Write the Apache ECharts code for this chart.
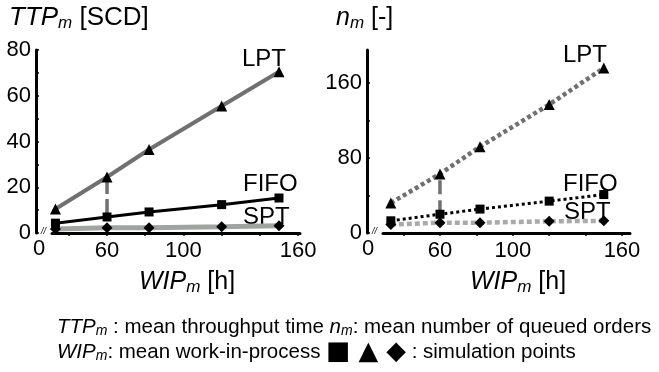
<!DOCTYPE html>
<html>
<head>
<meta charset="utf-8">
<script src="https://cdn.jsdelivr.net/npm/echarts@6/dist/echarts.min.js"></script>
<style>
html,body{margin:0;padding:0;background:#fff;}
#chart{width:659px;height:372px;}
</style>
</head>
<body>
<div id="chart"></div>
<script>
// simulation points
var wip = [33, 60, 82, 120, 150];
var ttpLPT = [10.5, 24.5, 36.5, 55.5, 70.5];
var ttpFIFO = [4.3, 7, 9.2, 12.4, 15.3];
var ttpSPT = [1.8, 2.3, 2.3, 2.7, 3.2];
var nLPT = [32, 63, 92, 137, 176];
var nFIFO = [13, 20, 25.5, 34, 41];
var nSPT = [9, 11, 11, 12.5, 13];
// dashed gap marker at WIP = 60
var gapWip = 60;
var gapTTP = [7, 24.5];
var gapN = [20, 63];
// ticks / labels
var xTicks = [40, 60, 80, 100, 120, 140, 160];
var xLabels = [60, 100, 160];
var ttpTicks = [0, 10, 20, 30, 40, 50, 60, 70, 80];
var ttpLabels = [0, 20, 40, 60, 80];
var nTicks = [0, 40, 80, 120, 160];
var nLabels = [0, 80, 160];

var FONT = '"Liberation Sans", Arial, sans-serif';

function pts(xs, ys) {
	return xs.map(function (x, i) { return [x, ys[i]]; });
}

function xAx(idx, min, max) {
	return {
		type: 'value', gridIndex: idx, min: min, max: max,
		axisLine: { lineStyle: { color: '#000', width: 3 } },
		axisTick: { customValues: xTicks, length: 3, lineStyle: { color: '#000', width: 1.5 } },
		axisLabel: { customValues: xLabels, color: '#000', fontSize: 22, fontFamily: FONT, margin: 7 },
		splitLine: { show: false }
	};
}
function yAx(idx, max, ticks, labels) {
	return {
		type: 'value', gridIndex: idx, min: 0, max: max, offset: 16,
		axisLine: { show: true, lineStyle: { color: '#000', width: 3 } },
		axisTick: { show: true, inside: true, customValues: ticks, length: 3, lineStyle: { color: '#000', width: 1.5 } },
		axisLabel: { customValues: labels, color: '#000', fontSize: 22, fontFamily: FONT, margin: 5 },
		splitLine: { show: false }
	};
}
function ser(idx, data, sym, size, lineColor, width, dash) {
	return {
		type: 'line', xAxisIndex: idx, yAxisIndex: idx, data: data,
		symbol: sym, symbolSize: size, showAllSymbol: true,
		itemStyle: { color: '#000' },
		lineStyle: { color: lineColor, width: width, type: dash || 'solid', cap: 'butt' },
		z: 3
	};
}
function gap(idx, ys, dash) {
	return {
		type: 'line', xAxisIndex: idx, yAxisIndex: idx,
		data: [[gapWip, ys[0]], [gapWip, ys[1]]], symbol: 'none',
		lineStyle: { color: '#707070', width: 3.5, type: dash }, z: 2
	};
}
function txt(x, y, text, size) {
	return {
		type: 'text', x: x, y: y,
		style: { text: text, fill: '#000', font: size + 'px ' + FONT, verticalAlign: 'middle' }
	};
}
function rich(x, y, text, size, sub) {
	return {
		type: 'text', x: x, y: y,
		style: {
			text: text, fill: '#000', verticalAlign: 'middle',
			fontSize: size, fontFamily: FONT,
			rich: {
				i: { fontSize: size, fontStyle: 'italic', fontFamily: FONT },
				s: { fontSize: sub, fontStyle: 'italic', fontFamily: FONT, padding: [Math.round(sub * 0.6), 0, 0, 0] },
				n: { fontSize: size, fontFamily: FONT },
				b: { fontSize: size * 1.25, fontFamily: '"DejaVu Sans", ' + FONT }
			}
		}
	};
}

var chart = echarts.init(document.getElementById('chart'));
chart.setOption({
	animation: false,
	grid: [
		{ left: 52, top: 50, width: 248, height: 183 },
		{ left: 383, top: 50, width: 247, height: 183 }
	],
	xAxis: [xAx(0, 31.2, 161), xAx(1, 28.7, 164.4)],
	yAxis: [yAx(0, 80, ttpTicks, ttpLabels), yAx(1, 195.2, nTicks, nLabels)],
	series: [
		gap(0, gapTTP, [18, 5]),
		ser(0, pts(wip, ttpSPT), 'diamond', 11, '#a0a4a0', 5),
		ser(0, pts(wip, ttpFIFO), 'rect', 9, '#000', 3),
		ser(0, pts(wip, ttpLPT), 'triangle', 11, '#707070', 4),
		gap(1, gapN, [14, 6]),
		ser(1, pts(wip, nSPT), 'diamond', 11, '#a8aca8', 4.5, [5, 3]),
		ser(1, pts(wip, nFIFO), 'rect', 9, '#000', 3, [3, 3]),
		ser(1, pts(wip, nLPT), 'triangle', 11, '#707070', 4.5, [4, 3])
	],
	graphic: [
		rich(9, 18, '{i|TTP}{s|m}{n| [SCD]}', 26, 17),
		rich(336, 18, '{i|n}{s|m}{n| [-]}', 25, 17),
		txt(33, 249, '0', 22),
		txt(362, 249, '0', 22),
		{ type: 'text', x: 41, y: 231, style: { text: '//', fill: '#000', font: 'italic 9px ' + FONT, verticalAlign: 'middle' } },
		{ type: 'text', x: 372, y: 231, style: { text: '//', fill: '#000', font: 'italic 9px ' + FONT, verticalAlign: 'middle' } },
		txt(242, 59, 'LPT', 24),
		txt(243, 184, 'FIFO', 24),
		txt(243, 217, 'SPT', 24),
		txt(563, 55, 'LPT', 24),
		txt(563, 184, 'FIFO', 24),
		txt(564, 212, 'SPT', 24),
		rich(139, 282, '{i|WIP}{s|m}{n| [h]}', 25, 17),
		rich(470, 282, '{i|WIP}{s|m}{n| [h]}', 25, 17),
		rich(57, 327, '{i|TTP}{s|m}{n| : mean throughput time }{i|n}{s|m}{n|: mean number of queued orders}', 20.5, 14),
		rich(57, 352, '{i|WIP}{s|m}{n|: mean work-in-process }{b|\u25A0 \u25B2 \u25C6}{n| : simulation points}', 20.5, 14)
	]
});
</script>
</body>
</html>
